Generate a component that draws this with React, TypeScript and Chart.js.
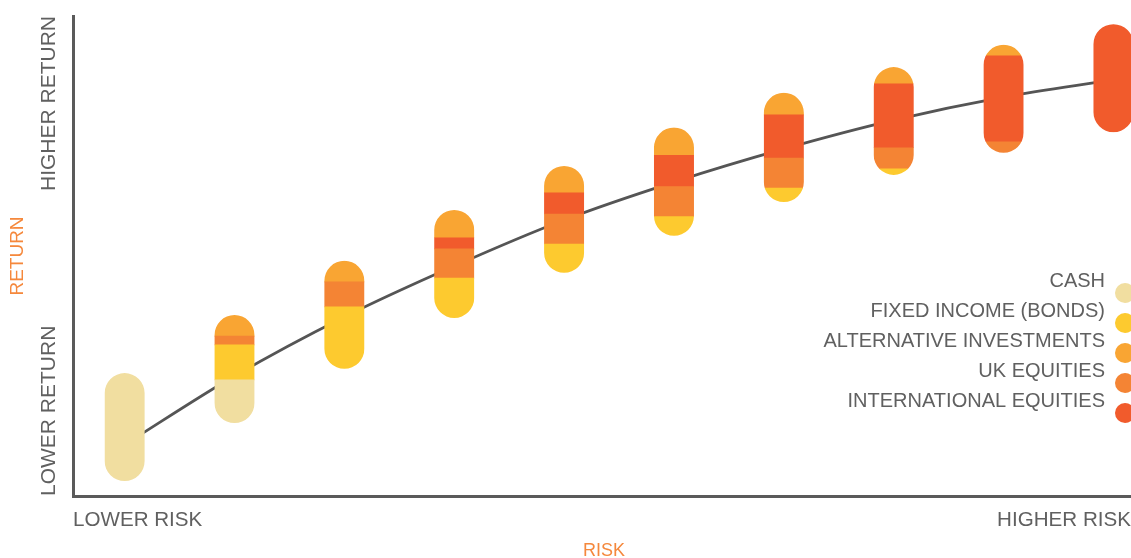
import React, { useEffect, useRef } from "react";
import { Chart, registerables } from "chart.js";

Chart.register(...registerables);

// ---- data ----
const RISK_LEVELS = [1, 2, 3, 4, 5, 6, 7, 8, 9, 10];
// bottom of each portfolio pill on the return scale (0-100)
const PILL_BASE = [3.1, 15.2, 26.5, 37.1, 46.5, 54.2, 61.25, 66.9, 71.5, 75.8];
// height of each asset-class band inside every pill (stacked bottom -> top)
const CASH = [22.5, 9.0, 0, 0, 0, 0, 0, 0, 0, 0];
const FIXED_INCOME = [0, 7.3, 12.9, 8.3, 6.0, 4.0, 2.9, 1.25, 0, 0];
const UK_EQUITIES = [0, 1.8, 5.2, 6.1, 6.25, 6.25, 6.25, 4.4, 2.3, 0];
const INTERNATIONAL_EQUITIES = [0, 0, 0, 2.3, 4.4, 6.5, 9.0, 13.3, 17.9, 22.5];
const ALTERNATIVE_INVESTMENTS = [0, 4.4, 4.4, 5.8, 5.6, 5.8, 4.6, 3.5, 2.3, 0];
// risk / return curve through the pills
const FRONTIER = [10.7, 25.0, 37.3, 47.9, 57.5, 65.4, 72.3, 78.3, 83.1, 86.7];

const X_TICK_LABELS = ["LOWER RISK", "HIGHER RISK"];
const Y_TICK_LABELS = ["LOWER RETURN", "HIGHER RETURN"];
const X_TITLE = "RISK";
const Y_TITLE = "RETURN";
const LEGEND_LABELS = [
  "CASH",
  "FIXED INCOME (BONDS)",
  "ALTERNATIVE INVESTMENTS",
  "UK EQUITIES",
  "INTERNATIONAL EQUITIES",
];

// ---- styles ----
const COLORS: Record<string, string> = {
  "CASH": "#F1DEA0",
  "FIXED INCOME (BONDS)": "#FDCA2F",
  "ALTERNATIVE INVESTMENTS": "#F9A533",
  "UK EQUITIES": "#F48434",
  "INTERNATIONAL EQUITIES": "#F15B2C",
};
const PILL_WIDTH = 40;
const TEXT_COLOR = "#606060";
const TITLE_COLOR = "#F5883C";
const AXIS_COLOR = "#5A5A5A";
const FONT = '"Liberation Sans", Arial, sans-serif';

const STACK: [string, number[]][] = [
  ["CASH", CASH],
  ["FIXED INCOME (BONDS)", FIXED_INCOME],
  ["UK EQUITIES", UK_EQUITIES],
  ["INTERNATIONAL EQUITIES", INTERNATIONAL_EQUITIES],
  ["ALTERNATIVE INVESTMENTS", ALTERNATIVE_INVESTMENTS],
];

function buildBarDatasets() {
  const running = PILL_BASE.slice();
  return STACK.map(([label, values], k) => {
    const data: any[] = [];
    values.forEach((v, i) => {
      const start = running[i];
      const end = start + v;
      running[i] = end;
      if (v > 0) data.push({ x: RISK_LEVELS[i], y: [start, end] });
    });
    return {
      type: "bar" as const,
      label,
      data,
      backgroundColor: COLORS[label],
      borderWidth: 0,
      barThickness: PILL_WIDTH,
      grouped: false,
      order: k,
    };
  });
}

function pillTotal(i: number) {
  return STACK.reduce((s, [, vals]) => s + vals[i], 0);
}

const pillClip = {
  id: "pillClip",
  beforeDatasetDraw(chart: any, args: any) {
    if (args.meta.type !== "bar") return;
    const { ctx } = chart;
    const xs = chart.scales.x;
    const ys = chart.scales.y;
    ctx.save();
    ctx.beginPath();
    RISK_LEVELS.forEach((pos, i) => {
      const cx = xs.getPixelForValue(pos);
      const top = ys.getPixelForValue(PILL_BASE[i] + pillTotal(i));
      const bottom = ys.getPixelForValue(PILL_BASE[i]);
      ctx.roundRect(cx - PILL_WIDTH / 2, top, PILL_WIDTH, bottom - top, PILL_WIDTH / 2);
    });
    ctx.clip();
  },
  afterDatasetDraw(chart: any, args: any) {
    if (args.meta.type !== "bar") return;
    chart.ctx.restore();
  },
};

const textPlugin = {
  id: "textPlugin",
  afterDraw(chart: any) {
    const { ctx, chartArea, width } = chart;
    const { left, top, bottom } = chartArea;
    ctx.save();
    ctx.textBaseline = "alphabetic";

    // x tick labels
    ctx.font = `20.6px ${FONT}`;
    ctx.fillStyle = TEXT_COLOR;
    ctx.textAlign = "left";
    ctx.fillText(X_TICK_LABELS[0], left, bottom + 29.5);
    ctx.textAlign = "right";
    ctx.fillText(X_TICK_LABELS[1], width, bottom + 29.5);

    // x title
    ctx.font = `18px ${FONT}`;
    ctx.fillStyle = TITLE_COLOR;
    ctx.textAlign = "center";
    ctx.fillText(X_TITLE, 604, bottom + 60);

    // y tick labels (rotated)
    ctx.font = `21px ${FONT}`;
    ctx.fillStyle = TEXT_COLOR;
    ctx.save();
    ctx.translate(left - 18, bottom);
    ctx.rotate(-Math.PI / 2);
    ctx.textAlign = "left";
    ctx.fillText(Y_TICK_LABELS[0], 0, 0);
    ctx.restore();
    ctx.save();
    ctx.translate(left - 18, top);
    ctx.rotate(-Math.PI / 2);
    ctx.textAlign = "right";
    ctx.fillText(Y_TICK_LABELS[1], 0, 0);
    ctx.restore();

    // y title
    ctx.font = `19px ${FONT}`;
    ctx.fillStyle = TITLE_COLOR;
    ctx.save();
    ctx.translate(23, 256);
    ctx.rotate(-Math.PI / 2);
    ctx.textAlign = "center";
    ctx.fillText(Y_TITLE, 0, 0);
    ctx.restore();

    // legend
    ctx.font = `20px ${FONT}`;
    LEGEND_LABELS.forEach((label, k) => {
      const base = 287 + k * 30;
      ctx.fillStyle = TEXT_COLOR;
      ctx.textAlign = "right";
      ctx.fillText(label, 1105, base);
      ctx.beginPath();
      ctx.arc(1125, base + 6, 10, 0, Math.PI * 2);
      ctx.fillStyle = COLORS[label];
      ctx.fill();
    });
    ctx.restore();
  },
};

export default function App() {
  const canvasRef = useRef<HTMLCanvasElement | null>(null);

  useEffect(() => {
    document.body.style.margin = "0";
    const canvas = canvasRef.current;
    if (!canvas) return;
    const lineDataset = {
      type: "line" as const,
      label: "frontier",
      data: RISK_LEVELS.map((x, i) => ({ x, y: FRONTIER[i] })),
      borderColor: "#555555",
      borderWidth: 2.8,
      pointRadius: 0,
      cubicInterpolationMode: "monotone" as const,
      fill: false,
      order: 20,
    };
    const chart = new Chart(canvas, {
      type: "bar",
      data: { datasets: [...buildBarDatasets(), lineDataset] as any },
      options: {
        animation: false,
        responsive: false,
        maintainAspectRatio: false,
        layout: { padding: { left: 73, top: 16, right: 0, bottom: 62 } },
        plugins: { legend: { display: false }, tooltip: { enabled: false } },
        scales: {
          x: {
            type: "linear",
            offset: false,
            min: 0.53,
            max: 10.16,
            grid: { display: false, offset: false },
            ticks: { display: false },
            border: { display: true, color: AXIS_COLOR, width: 3 },
            afterFit: (s: any) => { s.height = 0; },
          },
          y: {
            type: "linear",
            min: 0,
            max: 100,
            grid: { display: false },
            ticks: { display: false },
            border: { display: true, color: AXIS_COLOR, width: 3 },
            afterFit: (s: any) => { s.width = 0; },
          },
        },
      } as any,
      plugins: [pillClip, textPlugin],
    });
    return () => chart.destroy();
  }, []);

  return (
    <div style={{ position: "absolute", left: 0, top: 0, width: 1131, height: 558 }}>
      <canvas ref={canvasRef} width={1131} height={558} style={{ width: 1131, height: 558 }} />
    </div>
  );
}
